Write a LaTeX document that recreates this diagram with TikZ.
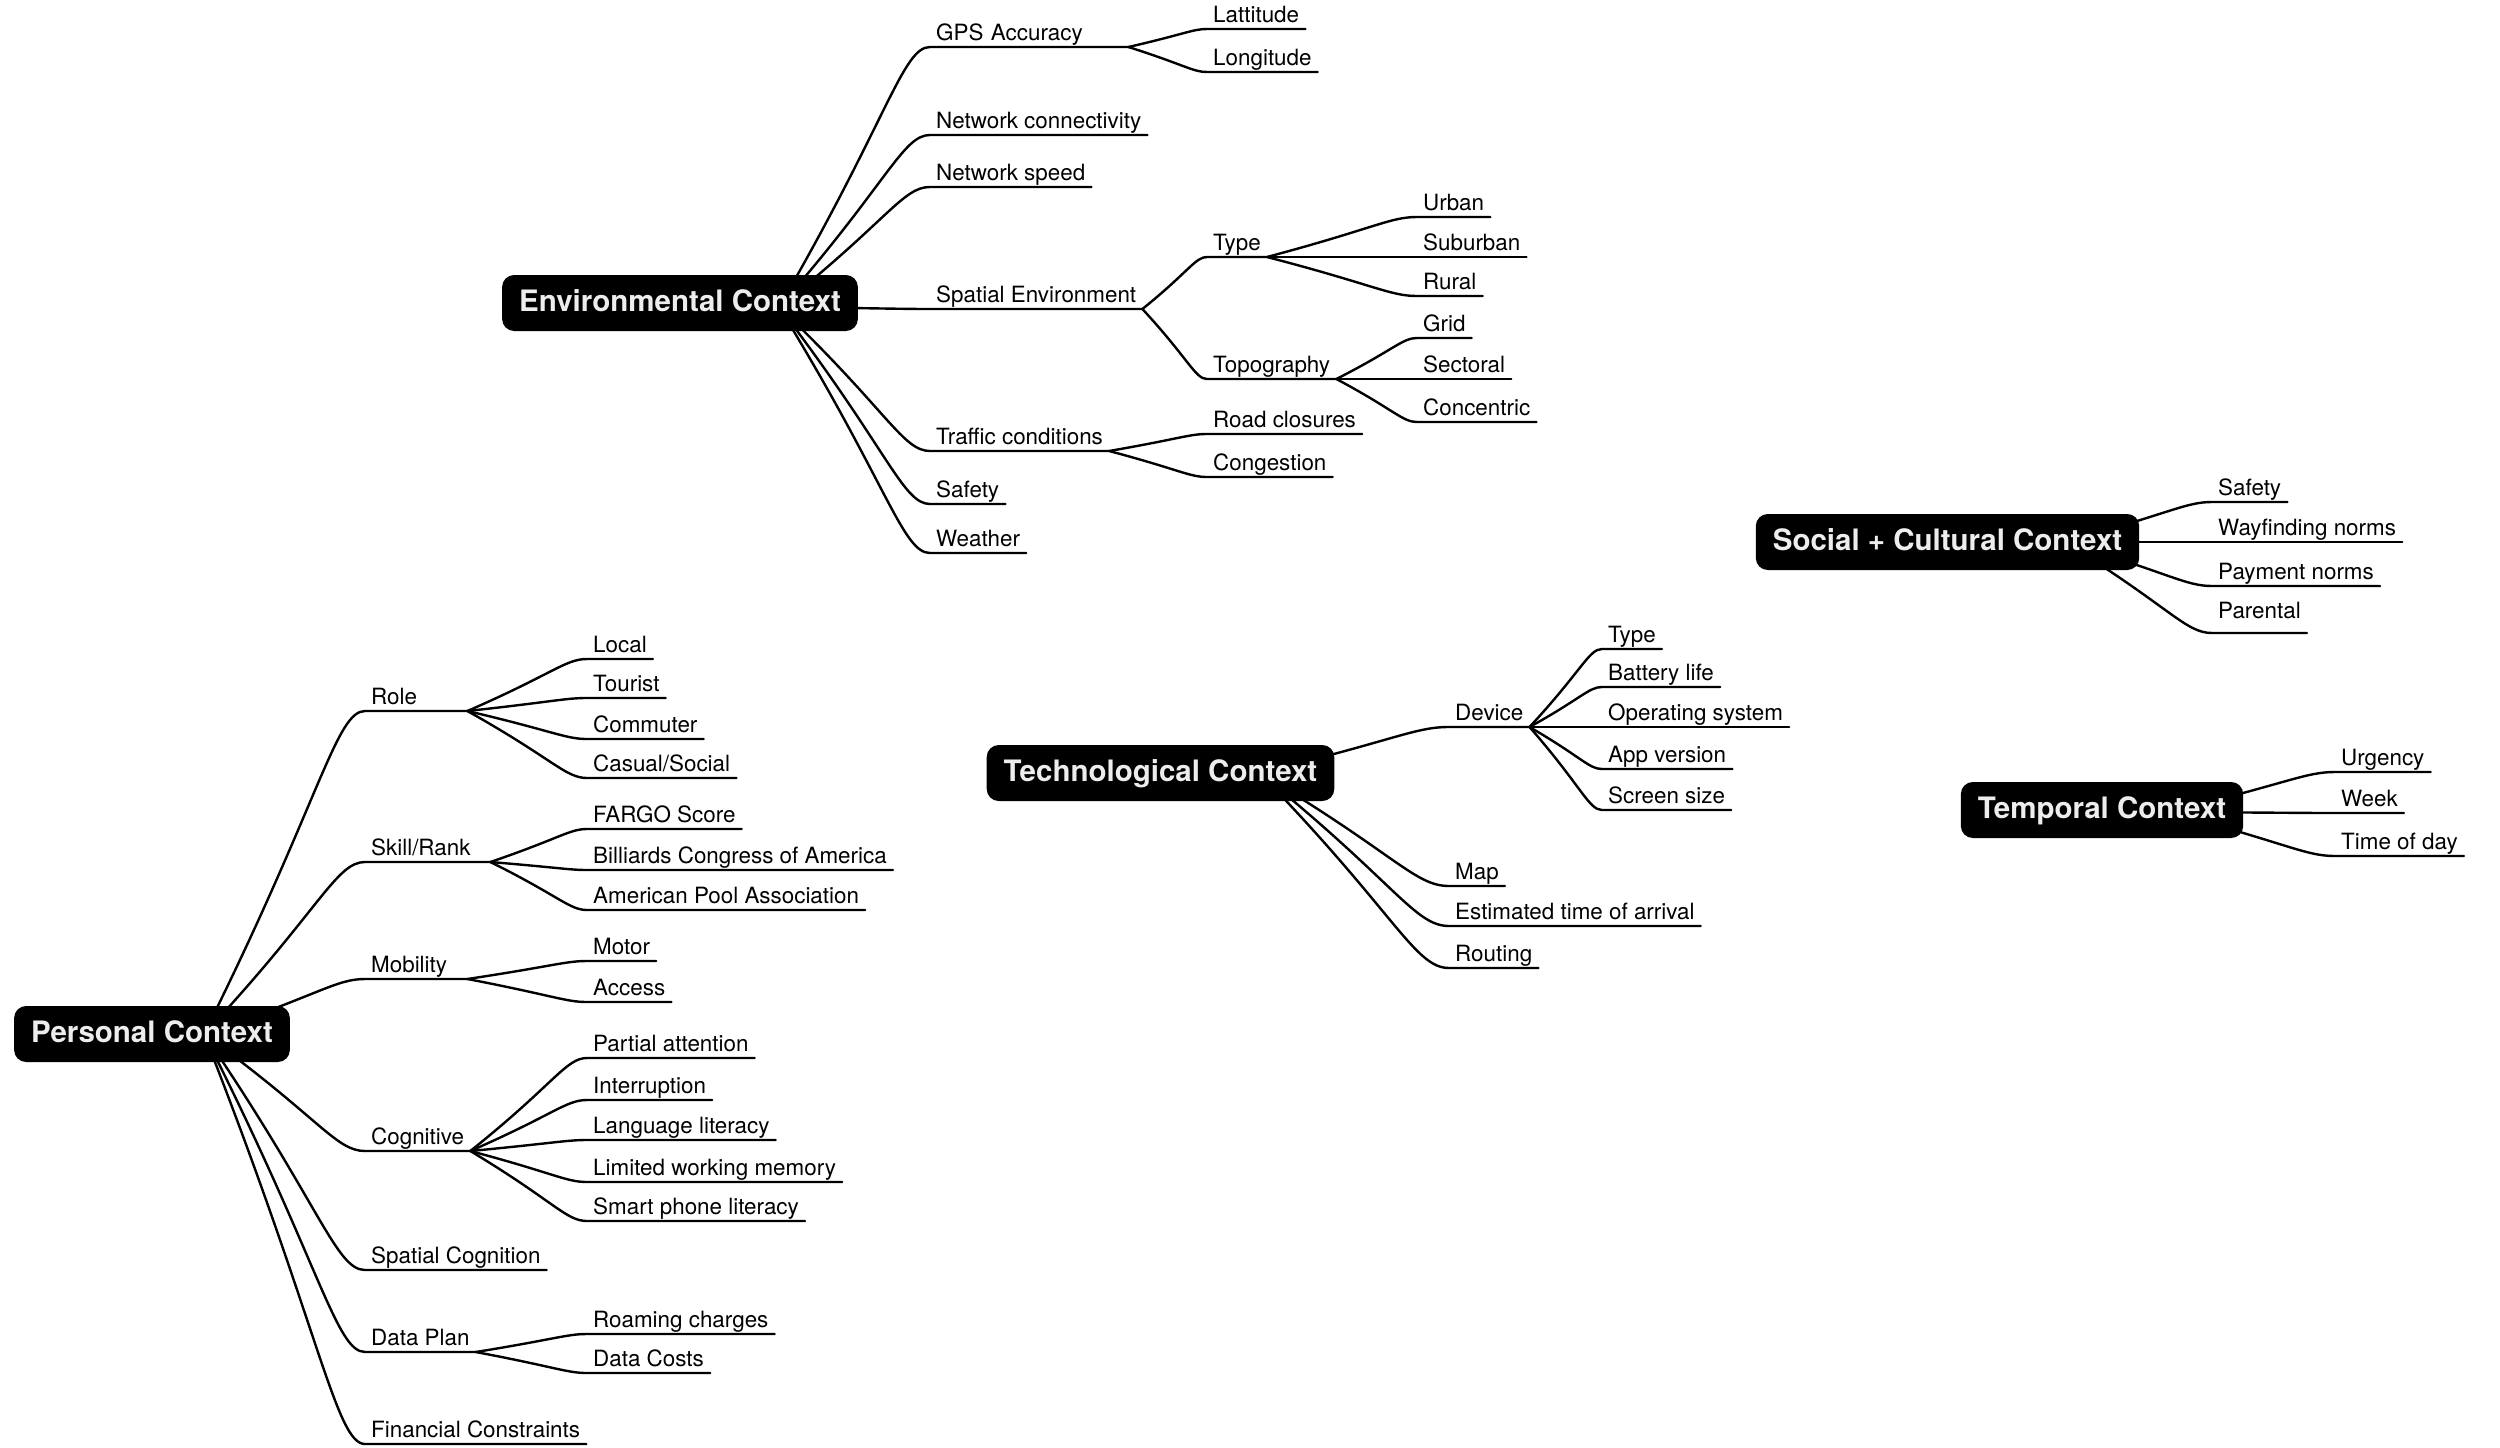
\documentclass[tikz,border=0pt]{standalone}
\usepackage{fontspec}
\setmainfont{TeX Gyre Heros}
\usetikzlibrary{calc,backgrounds}

\tikzset{
  root/.style={fill=black, text=white!93!black, rounded corners=12pt,
    font=\bfseries\fontsize{29.5}{34}\selectfont,
    inner xsep=17pt, inner ysep=0pt, minimum height=56pt,
    text height=22pt, text depth=6pt},
  leaf/.style={anchor=south west, inner xsep=6pt, inner ysep=4.5pt,
    text depth=1.5pt, font=\fontsize{22.4}{26}\selectfont},
  branch/.style={line width=2.4pt, line cap=round, line join=round},
  twig/.style={to path={.. controls ($(\tikztostart)!0.72!(\tikztotarget)$)
      and ($(\tikztotarget)!0.18!(\tikztotarget -| \tikztostart)$) .. (\tikztotarget)}}
}

\begin{document}
\begin{tikzpicture}[x=1pt,y=-1pt]
    \useasboundingbox (0,0) rectangle (2500,1448);

    % Root boxes
    \node[root] (env)  at (680,303)    {Environmental Context};
    \node[root] (pers) at (152,1034)   {Personal Context};
    \node[root] (tech) at (1160.5,773) {Technological Context};
    \node[root] (soc)  at (1947.5,542) {Social + Cultural Context};
    \node[root] (temp) at (2102,810)   {Temporal Context};

    % Points inside the boxes where the branches start
    \coordinate (env-o)  at ([xshift=-79pt,yshift=-4pt]env.east);
    \coordinate (pers-o) at ([xshift=-86pt]pers.east);
    \coordinate (tech-o) at ([xshift=-75pt]tech.east);
    \coordinate (soc-o)  at ([xshift=-75pt]soc.east);
    \coordinate (temp-o) at ([xshift=-75pt,yshift=-2pt]temp.east);

    % Environmental Context
    \node[leaf, text width=186pt, align=left] (gps) at (930,47) {GPS Accuracy};
    \node[leaf] (netc) at (930,135) {Network connectivity};
    \node[leaf] (nets) at (930,187) {Network speed};
    \node[leaf] (spat) at (930,309) {Spatial Environment};
    \node[leaf] (traf) at (930,451) {Traffic conditions};
    \node[leaf] (esaf) at (930,504) {Safety};
    \node[leaf] (weat) at (930,553) {Weather};

    \node[leaf] (lat)   at (1207,29)  {Lattitude};
    \node[leaf] (lon)   at (1207,72)  {Longitude};
    \node[leaf] (stype) at (1207,257) {Type};
    \node[leaf] (topo)  at (1207,379) {Topography};
    \node[leaf] (road)  at (1207,434) {Road closures};
    \node[leaf] (cong)  at (1207,477) {Congestion};

    \node[leaf] (urb)  at (1417,217) {Urban};
    \node[leaf] (sub)  at (1417,257) {Suburban};
    \node[leaf] (rur)  at (1417,296) {Rural};
    \node[leaf] (grid) at (1417,338) {Grid};
    \node[leaf] (sect) at (1417,379) {Sectoral};
    \node[leaf] (conc) at (1417,422) {Concentric};

    % Personal Context
    \node[leaf, text width=90pt, align=left]  (role)  at (365,711)  {Role};
    \node[leaf, text width=113pt, align=left] (skill) at (365,862)  {Skill/Rank};
    \node[leaf, text width=90pt, align=left]  (mob)   at (365,979)  {Mobility};
    \node[leaf] (cogn)  at (365,1151) {Cognitive};
    \node[leaf] (spcog) at (365,1270) {Spatial Cognition};
    \node[leaf] (dplan) at (365,1352) {Data Plan};
    \node[leaf] (fin)   at (365,1444) {Financial Constraints};

    \node[leaf] (local)  at (587,659)  {Local};
    \node[leaf] (tour)   at (587,698)  {Tourist};
    \node[leaf] (comm)   at (587,739)  {Commuter};
    \node[leaf] (casual) at (587,778)  {Casual/Social};
    \node[leaf] (fargo)  at (587,829)  {FARGO Score};
    \node[leaf] (bca)    at (587,870)  {Billiards Congress of America};
    \node[leaf] (apa)    at (587,910)  {American Pool Association};
    \node[leaf] (motor)  at (587,961)  {Motor};
    \node[leaf] (access) at (587,1002) {Access};
    \node[leaf] (part)   at (587,1058) {Partial attention};
    \node[leaf] (intr)   at (587,1100) {Interruption};
    \node[leaf] (lang)   at (587,1140) {Language literacy};
    \node[leaf] (mem)    at (587,1182) {Limited working memory};
    \node[leaf] (smart)  at (587,1221) {Smart phone literacy};
    \node[leaf] (roam)   at (587,1334) {Roaming charges};
    \node[leaf] (dcost)  at (587,1373) {Data Costs};

    % Technological Context
    \node[leaf] (dev)  at (1449,727) {Device};
    \node[leaf] (map)  at (1449,886) {Map};
    \node[leaf] (eta)  at (1449,926) {Estimated time of arrival};
    \node[leaf] (rout) at (1449,968) {Routing};

    \node[leaf] (dtype) at (1602,649) {Type};
    \node[leaf] (batt)  at (1602,687) {Battery life};
    \node[leaf] (os)    at (1602,727) {Operating system};
    \node[leaf] (app)   at (1602,769) {App version};
    \node[leaf] (scr)   at (1602,810) {Screen size};

    % Social + Cultural Context
    \node[leaf] (ssaf) at (2212,502) {Safety};
    \node[leaf] (way)  at (2212,542) {Wayfinding norms};
    \node[leaf] (pay)  at (2212,586) {Payment norms};
    \node[leaf, text depth=9.5pt] (par) at (2212,633) {Parental};

    % Temporal Context
    \node[leaf] (urg)  at (2335,772) {Urgency};
    \node[leaf] (week) at (2335,813) {Week};
    \node[leaf] (tod)  at (2335,856) {Time of day};

    % Branches, behind the boxes
    \begin{scope}[on background layer]
        \fill[white] (0,0) rectangle (2500,1448);

        \foreach \n in {gps,netc,nets,spat,traf,esaf,weat}
            \draw[branch] (env-o) to[twig] (\n.south west) -- (\n.south east);
        \foreach \n in {lat,lon}
            \draw[branch] (gps.south east) to[twig] (\n.south west) -- (\n.south east);
        \foreach \n in {stype,topo}
            \draw[branch] (spat.south east) to[twig] (\n.south west) -- (\n.south east);
        \foreach \n in {road,cong}
            \draw[branch] (traf.south east) to[twig] (\n.south west) -- (\n.south east);
        \foreach \n in {urb,sub,rur}
            \draw[branch] (stype.south east) to[twig] (\n.south west) -- (\n.south east);
        \foreach \n in {grid,sect,conc}
            \draw[branch] (topo.south east) to[twig] (\n.south west) -- (\n.south east);

        \foreach \n in {role,skill,mob,cogn,spcog,dplan,fin}
            \draw[branch] (pers-o) to[twig] (\n.south west) -- (\n.south east);
        \foreach \n in {local,tour,comm,casual}
            \draw[branch] (role.south east) to[twig] (\n.south west) -- (\n.south east);
        \foreach \n in {fargo,bca,apa}
            \draw[branch] (skill.south east) to[twig] (\n.south west) -- (\n.south east);
        \foreach \n in {motor,access}
            \draw[branch] (mob.south east) to[twig] (\n.south west) -- (\n.south east);
        \foreach \n in {part,intr,lang,mem,smart}
            \draw[branch] (cogn.south east) to[twig] (\n.south west) -- (\n.south east);
        \foreach \n in {roam,dcost}
            \draw[branch] (dplan.south east) to[twig] (\n.south west) -- (\n.south east);

        \foreach \n in {dev,map,eta,rout}
            \draw[branch] (tech-o) to[twig] (\n.south west) -- (\n.south east);
        \foreach \n in {dtype,batt,os,app,scr}
            \draw[branch] (dev.south east) to[twig] (\n.south west) -- (\n.south east);

        \foreach \n in {ssaf,way,pay,par}
            \draw[branch] (soc-o) to[twig] (\n.south west) -- (\n.south east);
        \foreach \n in {urg,week,tod}
            \draw[branch] (temp-o) to[twig] (\n.south west) -- (\n.south east);
    \end{scope}

\end{tikzpicture}
\end{document}
